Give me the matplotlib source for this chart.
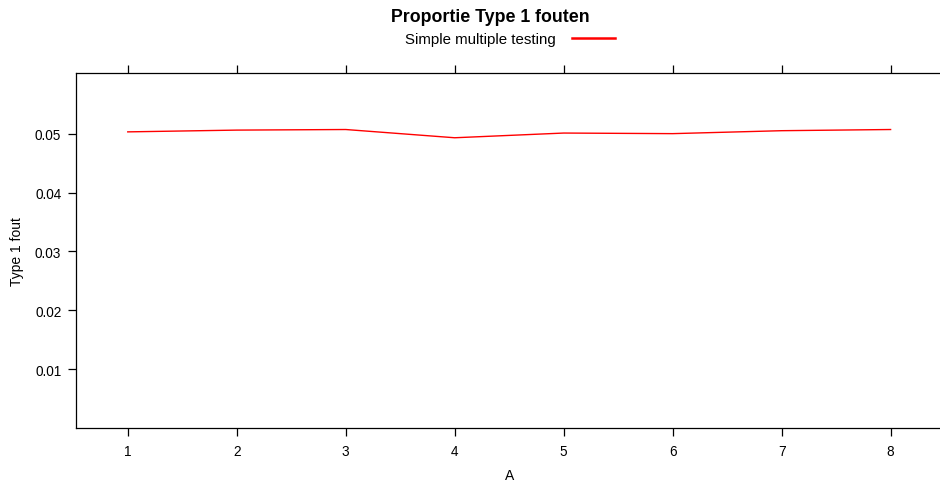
import matplotlib
matplotlib.use("Agg")
import matplotlib.pyplot as plt

A = [1, 2, 3, 4, 5, 6, 7, 8]
type1 = [0.0503, 0.0506, 0.0507, 0.0493, 0.0501, 0.0500, 0.0505, 0.0507]
yticks = [0.01, 0.02, 0.03, 0.04, 0.05]
yticklabels = ["0.01", "0.02", "0.03", "0.04", "0.05"]

plt.rcParams['font.family'] = ['Liberation Sans', 'DejaVu Sans']

W, H = 940, 481
fig = plt.figure(figsize=(W / 100, H / 100), dpi=100)
left, right, top, bottom = 76, 944, 74, 429
ax = fig.add_axes([left / W, 1 - bottom / H, (right - left) / W, (bottom - top) / H])

ax.plot(A, type1, color="#ff0000", lw=1.0)
ax.set_xlim(0.525, 8.49)
ax.set_ylim(0.0, 0.0603)
ax.set_xticks(A)
ax.set_yticks(yticks)
ax.set_yticklabels(yticklabels)
ax.tick_params(axis="both", direction="out", length=5.6, width=0.9, labelsize=9.8,
               pad=5, colors="black")
ax.tick_params(axis="x", top=True, labeltop=False, pad=6)
for s in ax.spines.values():
    s.set_linewidth(0.9)

ax.set_ylabel("Type 1 fout", fontsize=10, labelpad=8)
ax.set_xlabel("A", fontsize=10, labelpad=7)

fig.text(490 / W, 1 - 18 / H, "Proportie Type 1 fouten", fontsize=12.8, fontweight="bold",
         ha="center", va="center")
fig.text(556 / W, 1 - 40 / H, "Simple multiple testing", fontsize=10.8,
         ha="right", va="center")
fig.add_artist(matplotlib.lines.Line2D([572 / W, 615 / W], [1 - 39 / H, 1 - 39 / H],
                                       color="#ff0000", lw=1.8))

fig.savefig("out.png", dpi=100)
